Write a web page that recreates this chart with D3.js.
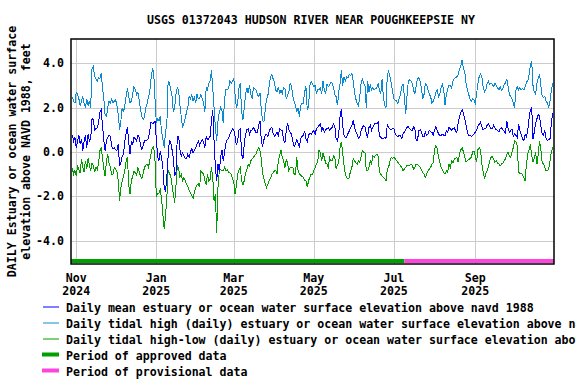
<!DOCTYPE html>
<html>
<head>
<meta charset="utf-8">
<script src="https://cdn.jsdelivr.net/npm/d3@7"></script>
<style>
  body { margin: 0; background: #fff; }
  svg text { font-family: "DejaVu Sans Mono", monospace; font-weight: bold; font-size: 11.6px; fill: #000; }
</style>
</head>
<body>
<div id="chart"></div>
<script>
// ---- data (daily values, feet) ----
const title = "USGS 01372043 HUDSON RIVER NEAR POUGHKEEPSIE NY";
const yLabelLines = ["DAILY Estuary or ocean water surface", "elevation above NAVD 1988, feet"];
const firstDay = "2024-10-29";

const dailyHigh = [
  2.5, 2.3, 2.2,
  2.7, 2.6, 2.4, 2.1, 2.3, 2.5, 2.2, 2.0, 2.4, 2.1, 2.3, 2.0, 3.75, 3.85, 3.4, 3.3, 3.2, 3.35, 3.3, 3.55, 2.9, 2.4, 1.65, 1.6, 2.0, 2.3, 2.2, 2.4, 2.2, 2.3,
  2.35, 2.1, 1.7, 1.0, 1.4, 2.0, 1.8, 2.1, 2.5, 2.9, 2.5, 2.2, 2.3, 2.6, 2.95, 2.8, 2.6, 2.7, 2.3, 1.9, 1.6, 1.45, 1.6, 2.0, 2.2, 2.5, 2.7, 3.3, 3.75, 3.6, 2.4,
  1.3, 1.5, 1.4, 1.6, 0.9, 0.6, 0.2, 0.9, 1.2, 3.2, 3.1, 2.8, 2.5, 1.8, 2.0, 2.6, 2.9, 2.8, 2.1, 1.6, 1.1, 1.3, 1.5, 1.8, 2.0, 2.5, 2.4, 2.6, 2.3, 2.5, 2.2,
  2.6, 2.4, 2.4, 2.6, 2.4, 2.2, 1.8, 2.9, 2.8, 3.1, 3.2, 3.7, 2.9, 2.0, 1.1, 0.5, 1.4, 1.8, 2.0, 1.9, 1.3, 2.4, 2.8, 2.8, 2.85, 3.2, 3.1, 3.2,
  3.35, 2.6, 2.0, 2.2, 2.9, 3.1, 1.8, 1.45, 2.0, 2.6, 2.9, 2.65, 3.0, 2.6, 2.4, 2.9, 2.85, 2.8, 2.6, 2.5, 2.65, 1.9, 1.4, 1.35, 1.9, 2.4, 2.55, 3.0, 3.4, 3.5, 3.3,
  3.15, 2.8, 2.7, 2.95, 2.6, 2.8, 2.65, 2.9, 2.85, 2.4, 2.55, 2.7, 3.1, 3.0, 2.5, 2.3, 2.1, 1.8, 2.0, 1.6, 2.1, 2.2, 2.2, 2.7, 2.95, 1.9, 2.05, 3.0, 3.2, 3.05,
  2.95, 3.0, 2.65, 2.8, 2.8, 2.9, 2.6, 3.2, 2.8, 2.65, 3.05, 2.95, 3.0, 3.15, 3.1, 2.9, 2.6, 2.5, 2.1, 2.7, 3.1, 3.7, 3.0, 3.4, 3.2, 3.4, 3.35, 3.5, 3.45, 3.55, 3.2,
  2.7, 2.4, 2.2, 2.1, 2.5, 3.1, 3.3, 3.1, 3.0, 2.0, 3.2, 2.7, 3.05, 2.8, 2.9, 2.8, 2.85, 2.9, 3.1, 2.8, 2.6, 3.3, 2.5, 2.1, 2.0, 3.5, 3.65, 3.4, 3.1, 2.7,
  2.4, 2.35, 2.3, 2.2, 2.4, 2.6, 2.95, 3.05, 2.5, 1.7, 2.5, 3.2, 3.25, 3.2, 3.1, 2.8, 2.6, 3.0, 3.3, 3.35, 3.2, 2.9, 2.4, 2.6, 3.1, 3.05, 2.8, 2.6, 2.5, 2.2, 2.3,
  2.45, 2.7, 2.8, 2.5, 2.6, 2.9, 3.05, 2.8, 2.1, 2.6, 2.85, 3.0, 3.0, 2.9, 3.2, 3.3, 3.35, 3.4, 3.5, 3.75, 3.9, 4.15, 3.75, 3.6, 3.1, 2.8, 2.6, 2.4, 2.3, 2.4, 2.35,
  2.2, 2.6, 3.1, 3.4, 3.5, 3.4, 2.95, 2.7, 2.8, 3.1, 3.2, 3.05, 3.1, 3.05, 2.95, 3.1, 3.0, 2.9, 2.8, 2.95, 2.8, 2.85, 3.05, 3.1, 3.3, 2.95, 2.6, 2.5, 2.4, 2.2,
  2.0, 2.8, 2.95, 2.8, 2.9, 2.8, 2.85, 2.8, 2.95, 3.15, 3.2, 3.5, 3.9, 4.1, 3.0, 2.7, 2.6, 3.1, 3.35, 3.5, 3.0, 2.5, 2.45, 2.5, 2.3, 2.2, 2.0, 2.3, 2.8, 3.1
];

const dailyMean = [
  0.75, 0.5, 0.65,
  0.2, 0.5, 0.75, 0.35, 0.6, 0.05, 0.5, 0.75, 0.2, 0.8, 0.5, 0.6, 1.5, 1.45, 1.0, 1.05, 1.1, 1.3, 1.8, 1.9, 1.2, 0.5, 0.05, 0.5, 0.65, 0.75, 0.7, 0.25, 0.15, 0.2,
  0.1, 0.05, 0.35, -0.65, -0.5, -0.2, -0.1, 0.5, 0.85, 1.1, 0.4, -0.1, 0.5, 0.35, 0.65, 0.6, 0.5, 0.75, 0.65, 0.3, 0.1, 0.3, 0.5, 0.5, 0.55, 0.6, 0.95, 1.35, 1.3, 1.3, 1.4,
  0.6, -0.2, -0.4, 0.05, -0.25, -0.7, -1.6, -1.8, -1.15, -0.2, 0.55, 0.4, 0.1, -0.3, -1.1, -0.9, 0.7, 0.7, 0.1, -0.2, -0.05, -0.15, -0.3, -0.3, -0.1, -0.25, 0.0, 0.15, -0.05, 0.1, 0.2,
  0.35, 0.5, 0.3, 0.45, 0.55, 0.45, 0.2, 0.7, 0.55, 0.6, 0.7, 1.4, 1.9, 0.5, -0.7, -1.3, -0.55, -0.9, -0.25, 0.1, -0.4, 0.0, 0.4, 0.55, 0.6, 0.8, 0.9, 1.05,
  1.0, 0.7, 0.3, 0.5, 1.0, 1.05, -0.1, -0.3, 0.35, 0.8, 1.0, 1.05, 0.8, 0.95, 1.0, 1.1, 1.0, 0.85, 0.9, 1.2, 1.4, 0.5, 0.25, 0.55, 0.75, 0.8, 0.7, 0.95, 1.05, 1.1, 0.85,
  0.7, 0.8, 0.9, 0.75, 1.05, 1.0, 0.95, 0.55, 0.4, 0.95, 1.3, 1.0, 0.9, 0.8, 0.5, 0.25, 0.35, 0.55, 0.4, 0.2, 0.6, 0.7, 0.75, 0.95, 0.6, 0.45, 0.75, 0.85, 0.8, 0.9,
  0.95, 0.8, 1.05, 1.1, 1.2, 1.25, 0.97, 1.1, 0.9, 1.0, 1.05, 1.1, 0.97, 1.05, 1.1, 1.27, 1.15, 0.6, 0.5, 0.82, 1.6, 1.95, 1.2, 0.75, 0.67, 0.67, 0.82, 0.95, 1.1, 1.2, 1.4,
  1.15, 0.9, 0.8, 0.6, 0.67, 0.95, 1.1, 1.2, 1.12, 0.82, 0.67, 1.1, 1.2, 0.97, 1.12, 1.25, 1.3, 1.27, 1.35, 0.7, 0.67, 0.6, 0.59, 0.67, 0.6, 1.25, 1.1, 1.05, 1.0, 1.05,
  1.05, 0.82, 0.75, 0.7, 0.75, 0.75, 0.6, 0.82, 0.9, 1.0, 1.1, 1.15, 1.05, 1.0, 0.97, 1.12, 1.05, 0.5, 0.52, 0.97, 1.0, 0.9, 0.7, 0.67, 0.9, 0.75, 0.82, 0.97, 0.9, 0.89, 0.75,
  1.0, 1.15, 0.97, 0.82, 0.75, 0.74, 0.8, 0.75, 0.74, 0.97, 0.9, 1.1, 1.05, 0.97, 1.05, 1.1, 0.95, 0.89, 1.3, 1.6, 1.8, 1.9, 1.75, 1.5, 1.2, 0.9, 0.74, 0.74, 0.7, 0.75, 0.82,
  0.89, 1.0, 1.15, 1.25, 1.35, 1.15, 1.0, 1.05, 1.05, 1.2, 1.27, 1.15, 1.05, 1.05, 1.2, 1.1, 1.0, 0.97, 0.9, 1.05, 1.1, 1.0, 0.95, 0.85, 1.4, 1.05, 0.9, 0.95, 1.05, 0.7,
  0.8, 0.75, 0.65, 1.25, 0.97, 0.8, 0.6, 0.5, 0.8, 0.67, 1.0, 1.5, 1.9, 2.0, 0.6, 0.9, 1.3, 1.5, 1.7, 1.6, 1.15, 0.8, 0.75, 0.97, 0.6, 0.52, 0.55, 0.6, 1.3, 1.75
];

const dailyLow = [
  -0.75, -1.0, -0.85,
  -1.1, -0.6, -0.8, -0.95, -0.3, -0.7, -0.9, -0.4, -0.75, -0.3, -0.6, -0.85, -0.5, -0.6, -0.9, -0.7, -0.8, -0.5, 0.05, 0.2, -0.3, -0.75, -1.1, -0.4, -0.1, -0.5, -0.7, -1.0, -1.0, -0.7,
  -0.8, -0.9, -1.3, -2.2, -1.6, -1.3, -1.1, -0.85, -0.4, -0.25, -1.5, -1.9, -1.3, -1.1, -0.85, -0.95, -1.05, -0.7, -0.9, -1.1, -1.2, -0.95, -0.7, -0.6, -0.55, -0.7, -0.4, -0.1, 0.2, 0.25, -0.4,
  -2.0, -1.9, -1.85, -1.7, -2.1, -2.8, -3.5, -2.9, -2.1, -0.85, -0.95, -1.1, -1.5, -1.9, -2.3, -1.5, -0.6, -0.75, -1.15, -1.0, -1.3, -1.15, -1.3, -1.45, -1.55, -1.75, -1.85, -1.95, -2.1, -1.85, -1.6,
  -1.5, -1.45, -1.6, -0.85, -0.95, -1.0, -1.3, -1.45, -1.0, -1.3, -1.25, -0.7, -1.15, -2.2, -1.9, -3.65, -1.6, -0.85, -0.8, -0.85, -0.85, -0.7, -0.85, -0.8, -0.9, -0.95, -1.0, -1.2,
  -1.35, -1.9, -1.55, -1.0, -0.8, -0.7, -1.3, -1.5, -1.3, -0.95, -0.8, -0.55, -0.65, -0.4, -0.3, -0.25, -0.15, -0.1, 0.1, 0.2, 0.05, -0.3, -1.0, -1.2, -1.45, -1.6, -1.45, -1.3, -1.2, -1.0, -0.95,
  -0.85, -0.85, -1.0, -0.4, -0.15, 0.1, -0.25, -0.4, -0.7, -0.35, -0.5, -0.85, -0.7, -0.7, -0.7, -1.0, -1.0, -0.25, -0.85, -1.0, -1.05, -1.1, -1.15, -1.3, -1.3, -1.6, -1.3, -1.15, -1.0, -1.0,
  -0.85, -0.7, -0.55, -0.4, 0.1, -0.05, -0.4, -0.05, -0.25, -0.5, -0.55, -0.7, -0.25, -0.4, -0.4, -0.17, -0.25, -0.75, -0.6, -0.45, 0.21, 0.45, -0.05, -0.6, -1.0, -1.15, -1.23, -1.15, -0.85, -0.7, -0.3,
  -0.39, -0.5, -0.55, -0.4, -0.47, -0.2, 0.05, -0.02, -0.02, -0.85, -0.85, -0.7, -0.4, -0.55, -0.17, -0.24, -0.17, -0.1, -0.2, -0.9, -1.0, -1.08, -1.15, -1.2, -1.3, -0.77, -0.7, -0.4, -0.25, -0.3,
  -0.24, -0.3, -0.39, -0.47, -0.55, -0.62, -0.7, -0.85, -0.77, -0.7, -0.62, -0.62, -0.62, -0.55, -0.6, -0.77, -0.7, -0.55, -0.55, -0.62, -0.7, -0.8, -0.95, -1.0, -1.15, -1.0, -0.85, -0.77, -0.7, -0.55, -0.47,
  0.1, 0.3, 0.15, -0.24, -0.47, -0.7, -0.8, -0.95, -1.0, -0.85, -0.92, -0.55, -0.7, -0.4, -0.5, -0.32, -0.3, -0.24, -0.47, -0.1, 0.1, 0.2, 0.0, -0.24, -0.45, -0.4, -0.35, -0.3, -0.24, 0.0, 0.05,
  -0.17, -0.47, 0.1, 0.2, 0.1, -0.55, -0.9, -1.2, -1.0, -0.85, -0.7, -0.4, -0.25, -0.2, -0.32, -0.47, -0.4, -0.5, -0.55, -0.62, -0.55, -0.5, -0.4, -0.32, -0.1, 0.0, -0.2, -0.24, 0.0, 0.2,
  0.5, 0.45, 0.3, -0.9, -1.0, -0.95, -1.05, -1.15, -1.3, -0.55, -0.1, 0.1, 0.35, -0.17, -0.45, -0.3, 0.0, -0.55, -0.1, 0.5, 0.1, -0.5, -0.55, -0.7, -0.85, -0.85, -0.77, -0.4, 0.0, 0.2
];

const yTicks = [-4, -2, 0, 2, 4];
const xTickDates = ["2024-11-01", "2025-01-01", "2025-03-01", "2025-05-01", "2025-07-01", "2025-09-01"];
const xTickMonths = ["Nov", "Jan", "Mar", "May", "Jul", "Sep"];
const xTickYears = ["2024", "2025", "2025", "2025", "2025", "2025"];
const periodNames = ["approved", "provisional"];
const periodStarts = ["2024-10-28", "2025-07-09"];
const periodEnds = ["2025-07-09", "2025-10-31"];
const legendLabels = [
  "Daily mean estuary or ocean water surface elevation above navd 1988",
  "Daily tidal high (daily) estuary or ocean water surface elevation above navd 1988",
  "Daily tidal high-low (daily) estuary or ocean water surface elevation above navd 1988",
  "Period of approved data",
  "Period of provisional data"
];

// ---- layout ----
const W = 576, H = 384;
const plot = {left: 71, right: 554, top: 39, bottom: 264};
const colors = {mean: "#0000ff", high: "#0a8ad2", low: "#009c00", approved: "#00a000", provisional: "#ff44dd"};

const parse = d3.utcParse("%Y-%m-%d");
const day0 = parse(firstDay);
const toRows = arr => arr.map((v, i) => ({date: d3.utcDay.offset(day0, i), value: v}));

const svg = d3.select("#chart").append("svg")
  .attr("width", W)
  .attr("height", H);

const x = d3.scaleUtc()
  .domain([parse("2024-10-28"), parse("2025-10-31")])
  .range([plot.left, plot.right]);

const y = d3.scaleLinear()
  .domain([-5.06, 5.1])
  .range([plot.bottom, plot.top]);

// title
svg.append("text")
  .attr("x", 311)
  .attr("y", 24)
  .attr("text-anchor", "middle")
  .text(title);

// grid
const grid = svg.append("g").attr("stroke", "#cccccc").attr("stroke-width", 1).attr("shape-rendering", "crispEdges");
grid.selectAll(".hgrid")
  .data(yTicks)
  .enter().append("line")
  .attr("x1", plot.left).attr("x2", plot.right)
  .attr("y1", d => Math.round(y(d)) + 0.5).attr("y2", d => Math.round(y(d)) + 0.5);
grid.selectAll(".vgrid")
  .data(xTickDates.map(parse))
  .enter().append("line")
  .attr("y1", plot.top).attr("y2", plot.bottom)
  .attr("x1", d => Math.round(x(d)) + 0.5).attr("x2", d => Math.round(x(d)) + 0.5);

// y tick labels
const fmt = d => d3.format(".1f")(d).replace("\u2212", "-");
svg.selectAll(".ytick")
  .data(yTicks)
  .enter().append("text")
  .attr("x", 64)
  .attr("y", d => y(d))
  .attr("text-anchor", "end")
  .attr("dominant-baseline", "central")
  .text(fmt);

// x tick labels
const xt = svg.selectAll(".xtick")
  .data(xTickDates)
  .enter().append("g")
  .attr("transform", d => `translate(${x(parse(d))},0)`);
xt.append("text").attr("y", 282).attr("text-anchor", "middle").text((d, i) => xTickMonths[i]);
xt.append("text").attr("y", 295).attr("text-anchor", "middle").text((d, i) => xTickYears[i]);

// y axis title
yLabelLines.forEach((t, i) => {
  svg.append("text")
    .attr("transform", `translate(${12 + i * 14},${(plot.top + plot.bottom) / 2}) rotate(-90)`)
    .attr("text-anchor", "middle")
    .attr("dominant-baseline", "central")
    .text(t);
});

// series
const line = d3.line()
  .x(d => x(d.date))
  .y(d => y(d.value));

const series = [
  {key: "low", rows: toRows(dailyLow)},
  {key: "high", rows: toRows(dailyHigh)},
  {key: "mean", rows: toRows(dailyMean)}
];
svg.append("g").selectAll("path")
  .data(series)
  .enter().append("path")
  .attr("d", d => line(d.rows))
  .attr("fill", "none")
  .attr("stroke", d => colors[d.key])
  .attr("stroke-width", 1)
  .attr("shape-rendering", "crispEdges");

// approval periods bar
svg.append("g").selectAll("rect")
  .data(periodNames)
  .enter().append("rect")
  .attr("x", (d, i) => x(parse(periodStarts[i])))
  .attr("width", (d, i) => x(parse(periodEnds[i])) - x(parse(periodStarts[i])))
  .attr("y", 259)
  .attr("height", 4)
  .attr("fill", d => colors[d]);

// frame
svg.append("rect")
  .attr("x", plot.left).attr("y", plot.top)
  .attr("width", plot.right - plot.left).attr("height", plot.bottom - plot.top)
  .attr("fill", "none")
  .attr("stroke", "#000")
  .attr("stroke-width", 1.5);

// legend
const legendKeys = ["mean", "high", "low", "approved", "provisional"];
const lg = svg.append("g").selectAll("g")
  .data(legendKeys)
  .enter().append("g")
  .attr("transform", (d, i) => `translate(0,${311.5 + i * 16})`);
lg.filter((d, i) => i < 3).append("line")
  .attr("x1", 43).attr("x2", 59)
  .attr("y1", -4.5).attr("y2", -4.5)
  .attr("stroke", d => colors[d])
  .attr("stroke-width", 1);
lg.filter((d, i) => i >= 3).append("rect")
  .attr("x", 42).attr("width", 17)
  .attr("y", -7).attr("height", 4)
  .attr("fill", d => colors[d]);
lg.append("text")
  .attr("x", 66)
  .attr("y", 0)
  .text((d, i) => legendLabels[i]);
</script>
</body>
</html>
